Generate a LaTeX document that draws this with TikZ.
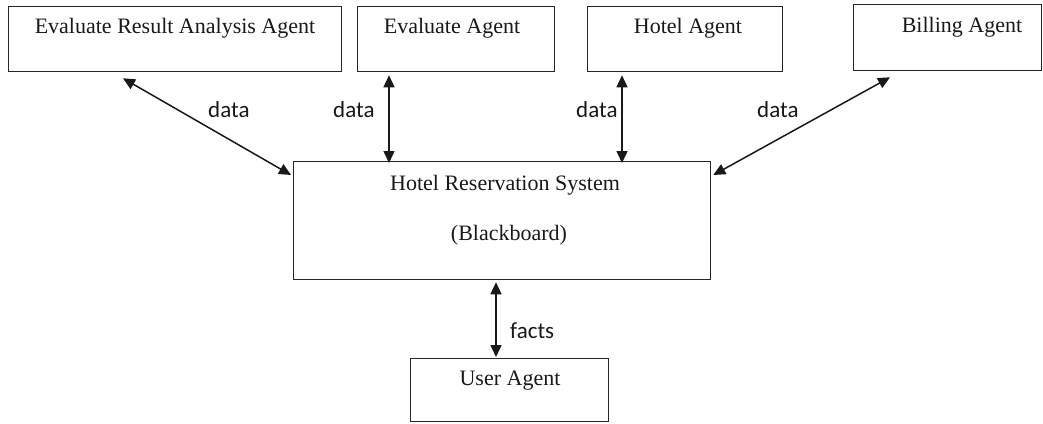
\documentclass[tikz,border=0pt]{standalone}
\usepackage{fontspec}
\setmainfont{Liberation Serif}
\newfontfamily\labelfont{Carlito}
\usetikzlibrary{arrows.meta}

\tikzset{
  box/.style={draw=black!85, line width=1.3pt, fill=white, inner sep=0pt, anchor=north west},
  boxtext/.style={font=\fontsize{22}{24}\selectfont, text=black!90, inner sep=0pt, anchor=base},
  flowlabel/.style={font=\labelfont\fontsize{23}{24}\selectfont, text=black!90, inner sep=0pt, anchor=base west},
  link/.style={line width=1.5pt, black!90, {Triangle[length=12pt,width=11pt]}-{Triangle[length=12pt,width=11pt]}}
}

\begin{document}
\begin{tikzpicture}[x=1pt,y=-1pt]
  \useasboundingbox[fill=white] (0,0) rectangle (1043,423);

  % agent boxes along the top
  \node[box, minimum width=333pt, minimum height=65pt] (era) at (8,6) {};
  \node[box, minimum width=197pt, minimum height=65pt] (eva) at (357,6) {};
  \node[box, minimum width=195pt, minimum height=65pt] (hot) at (587,6) {};
  \node[box, minimum width=188pt, minimum height=66pt] (bil) at (853,4) {};

  % blackboard and user agent
  \node[box, minimum width=417pt, minimum height=118pt] (hrs) at (293,161) {};
  \node[box, minimum width=198pt, minimum height=63pt] (usr) at (410,358) {};

  % box captions
  \node[boxtext] (eraT) at (175,33) {Evaluate Result Analysis Agent};
  \node[boxtext] (evaT) at (452,33) {Evaluate Agent};
  \node[boxtext] (hotT) at (688,33) {Hotel Agent};
  \node[boxtext] (bilT) at (962,32) {Billing Agent};
  \node[boxtext] (hrsT) at (505,190) {Hotel Reservation System};
  \node[boxtext] (hrsB) at (509,240) {(Blackboard)};
  \node[boxtext] (usrT) at (510,385) {User Agent};

  % two-way links to the blackboard
  \draw[link] ([xshift=115pt,yshift=-6pt]era.south west) -- ([xshift=-2pt,yshift=-14pt]hrs.north west);
  \draw[link] ([xshift=32pt,yshift=-3pt]eva.south west) -- ([xshift=96pt,yshift=-2pt]hrs.north west);
  \draw[link] ([xshift=35pt,yshift=-3pt]hot.south west) -- ([xshift=329pt,yshift=-2pt]hrs.north west);
  \draw[link] ([xshift=37pt,yshift=-6pt]bil.south west) -- ([xshift=2pt,yshift=-14pt]hrs.north east);
  \draw[link] ([xshift=203pt,yshift=-2pt]hrs.south west) -- ([xshift=86pt,yshift=1pt]usr.north west);

  % link labels
  \node[flowlabel] (d1) at (208,117) {data};
  \node[flowlabel] (d2) at (333,117) {data};
  \node[flowlabel] (d3) at (576,117) {data};
  \node[flowlabel] (d4) at (757,117) {data};
  \node[flowlabel] (f1) at (510,338) {facts};
\end{tikzpicture}
\end{document}
